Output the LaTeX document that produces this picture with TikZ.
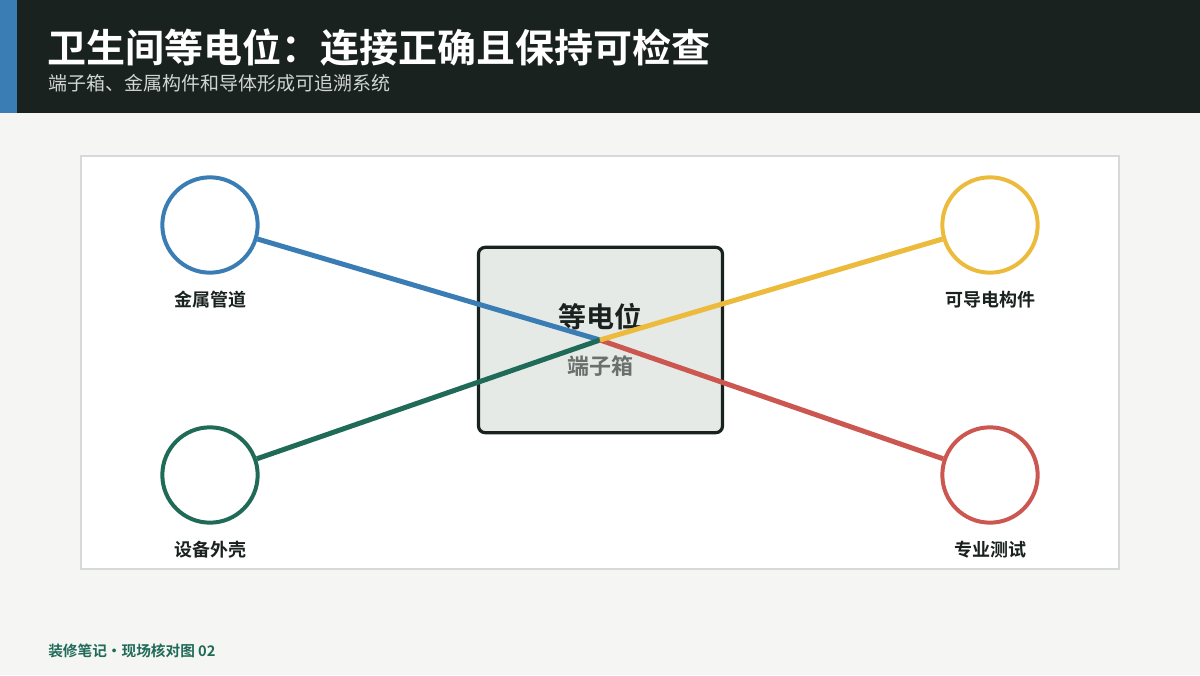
\documentclass[tikz,border=0pt]{standalone}
\usepackage{fontspec}
\setmainfont{Noto Sans CJK SC}[BoldFont={Noto Sans CJK SC Bold}]
\definecolor{hdr}{HTML}{1A2220}
\definecolor{bg}{HTML}{F5F5F3}
\definecolor{cblue}{HTML}{3A7DB5}
\definecolor{cyellow}{HTML}{EDBB3C}
\definecolor{cgreen}{HTML}{1F6B57}
\definecolor{cred}{HTML}{CC5650}
\definecolor{boxfill}{HTML}{E5EAE6}
\definecolor{panelline}{HTML}{D5DAD8}
\definecolor{subgray}{HTML}{D0D4D2}
\definecolor{boxsub}{HTML}{6B706D}
\tikzset{
  ring/.style={circle, draw=#1, line width=3pt, fill=white, minimum size=71.5pt, inner sep=0pt},
  wire/.style={draw=#1, line width=3.75pt},
  lbl/.style={anchor=base, font=\fontsize{13.5}{16}\selectfont\bfseries, text=hdr},
}
\begin{document}
\begin{tikzpicture}[x=0.75pt,y=-0.75pt]
\useasboundingbox (0,0) rectangle (1200,675);
\fill[bg] (0,0) rectangle (1200,675);
\fill[hdr] (0,0) rectangle (1200,113);
\fill[cblue] (0,0) rectangle (17,113);
\node[anchor=base west, inner sep=0pt, text=white, font=\fontsize{29.25}{34}\selectfont\bfseries] (title) at (47,62) {卫生间等电位：连接正确且保持可检查};
\node[anchor=base west, inner sep=0pt, text=subgray, font=\fontsize{14.25}{17}\selectfont] (sub) at (48,90) {端子箱、金属构件和导体形成可追溯系统};
% panel
\draw[panelline, line width=1.5pt, fill=white] (81,156) rectangle (1119,569);
% center box
\node[draw=hdr, line width=2.4pt, fill=boxfill, rounded corners=5pt, minimum width=183pt, minimum height=139pt, inner sep=0pt] (box) at (600.5,340) {};
\node[anchor=base, inner sep=0pt, text=hdr, font=\fontsize{21}{24}\selectfont\bfseries] (t1) at (600,327) {等电位};
\node[anchor=base, inner sep=0pt, text=boxsub, font=\fontsize{16.5}{19}\selectfont\bfseries] (t2) at (600,374) {端子箱};
\coordinate (hub) at (600,340);
% rings
\node[ring=cblue] (c1) at (210,225) {};
\node[ring=cyellow] (c2) at (990,225) {};
\node[ring=cgreen] (c3) at (210,475) {};
\node[ring=cred] (c4) at (990,475) {};
% wires
\draw[wire=cblue] (c1) -- (hub);
\draw[wire=cgreen] (c3) -- (hub);
\draw[wire=cred] (c4) -- (hub);
\draw[wire=cyellow] (c2) -- (hub);
% labels
\node[lbl] (l1) at (210,306) {金属管道};
\node[lbl] (l2) at (990,306) {可导电构件};
\node[lbl] (l3) at (210,556) {设备外壳};
\node[lbl] (l4) at (990,556) {专业测试};
% footer
\node[anchor=base west, inner sep=0pt, text=cgreen, font=\fontsize{11}{13}\selectfont\bfseries] (foot) at (48,656) {装修笔记・现场核对图 02};
\end{tikzpicture}
\end{document}
